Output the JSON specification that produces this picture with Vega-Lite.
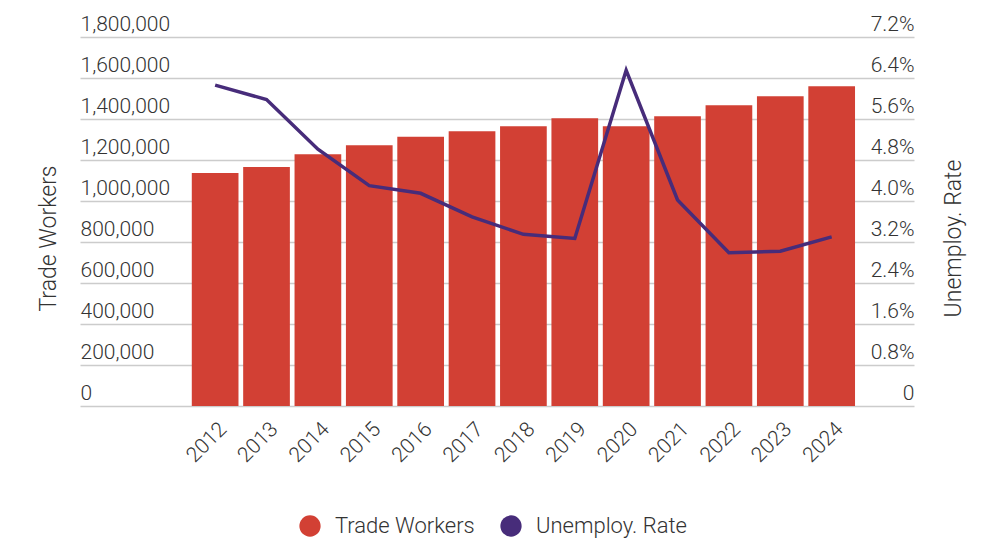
{
  "$schema": "https://vega.github.io/schema/vega-lite/v6.json",
  "width": 834,
  "height": 369,
  "autosize": {"type": "none"},
  "padding": {"left": 80, "top": 37, "right": 80, "bottom": 135},
  "background": "white",
  "config": {
    "view": {"stroke": null},
    "font": "Roboto",
    "axis": {
      "labelFontSize": 21,
      "labelFontWeight": 300,
      "labelColor": "#333333",
      "titleFontSize": 23,
      "titleFontWeight": 300,
      "titleColor": "#333333",
      "domain": false,
      "ticks": false,
      "tickSize": 0,
      "labelOverlap": false
    },
    "legend": {
      "labelFontSize": 22,
      "labelFontWeight": 300,
      "labelColor": "#333333",
      "labelFont": "Roboto"
    }
  },
  "data": {
    "values": [
      {"year": 2012, "workers": 1136000, "rate": 6.26},
      {"year": 2013, "workers": 1166000, "rate": 5.98},
      {"year": 2014, "workers": 1228000, "rate": 5.01},
      {"year": 2015, "workers": 1272000, "rate": 4.30},
      {"year": 2016, "workers": 1313000, "rate": 4.15},
      {"year": 2017, "workers": 1340000, "rate": 3.69},
      {"year": 2018, "workers": 1365000, "rate": 3.35},
      {"year": 2019, "workers": 1404000, "rate": 3.27},
      {"year": 2020, "workers": 1365000, "rate": 6.55},
      {"year": 2021, "workers": 1413000, "rate": 4.02},
      {"year": 2022, "workers": 1467000, "rate": 2.99},
      {"year": 2023, "workers": 1511000, "rate": 3.02},
      {"year": 2024, "workers": 1560000, "rate": 3.30}
    ]
  },
  "layer": [
    {
      "mark": {"type": "bar", "width": 46.7},
      "encoding": {
        "x": {
          "field": "year",
          "type": "quantitative",
          "scale": {"domain": [2009.467, 2025.505], "nice": false, "zero": false},
          "axis": {
            "title": null,
            "labelAngle": -45,
            "labelPadding": 12,
            "values": [2012, 2013, 2014, 2015, 2016, 2017, 2018, 2019, 2020, 2021, 2022, 2023, 2024],
            "format": "d",
            "labelFlush": false,
            "grid": false
          }
        },
        "y": {
          "field": "workers",
          "type": "quantitative",
          "scale": {"domain": [0, 1800000], "nice": false},
          "axis": {
            "title": "Trade Workers",
            "titleAngle": 270,
            "titleX": -25,
            "titleY": 201,
            "titleBaseline": "alphabetic",
            "titleAlign": "center",
            "values": [0, 200000, 400000, 600000, 800000, 1000000, 1200000, 1400000, 1600000, 1800000],
            "format": ",d",
            "labelAlign": "left",
            "labelBaseline": "alphabetic",
            "labelOffset": -7,
            "labelPadding": 0,
            "grid": true,
            "gridColor": "#cccccc",
            "gridWidth": 1.3
          }
        },
        "color": {
          "datum": "Trade Workers",
          "scale": {"domain": ["Trade Workers", "Unemploy. Rate"], "range": ["#d24034", "#472c7a"]},
          "legend": {
            "title": null,
            "orient": "none",
            "legendX": 219,
            "legendY": 478,
            "direction": "horizontal",
            "symbolType": "circle",
            "symbolSize": 452,
            "symbolStrokeWidth": 0,
            "labelOffset": 14,
            "columnPadding": 25
          }
        }
      }
    },
    {
      "mark": {"type": "line", "strokeWidth": 3.5},
      "encoding": {
        "x": {"field": "year", "type": "quantitative"},
        "y": {
          "field": "rate",
          "type": "quantitative",
          "scale": {"domain": [0, 7.2], "nice": false},
          "axis": {
            "orient": "right",
            "title": "Unemploy. Rate",
            "titleAngle": 270,
            "titleX": 46,
            "titleY": 201,
            "titleBaseline": "alphabetic",
            "titleAlign": "center",
            "values": [0, 0.8, 1.6, 2.4, 3.2, 4, 4.8, 5.6, 6.4, 7.2],
            "labelExpr": "datum.value == 0 ? '0' : format(datum.value, '.1f') + '%'",
            "labelAlign": "right",
            "labelBaseline": "alphabetic",
            "labelOffset": -7,
            "labelPadding": 0,
            "grid": false
          }
        },
        "color": {"datum": "Unemploy. Rate"}
      }
    }
  ],
  "resolve": {"scale": {"y": "independent"}}
}
